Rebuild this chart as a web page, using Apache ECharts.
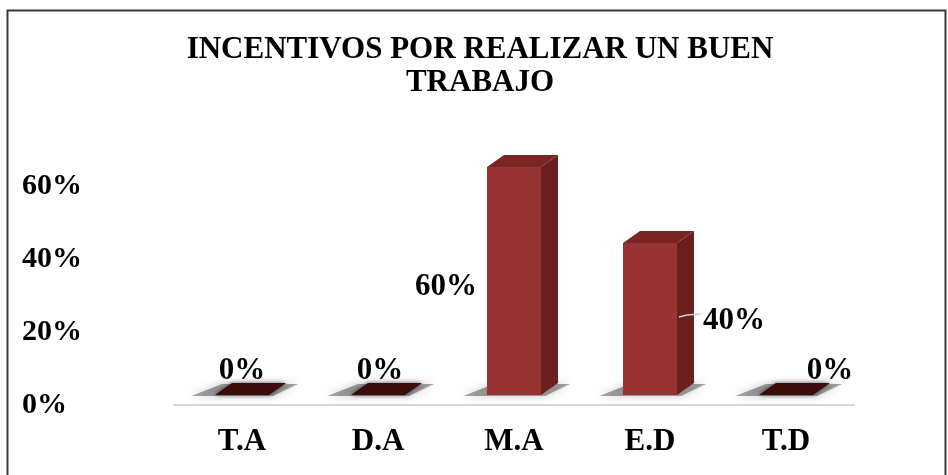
<!DOCTYPE html>
<html>
<head>
<meta charset="utf-8">
<script src="https://cdn.jsdelivr.net/npm/echarts@6/dist/echarts.min.js"></script>
<style>
  html, body { margin: 0; padding: 0; background: #fff; }
  #chart { width: 948px; height: 475px; }
</style>
</head>
<body>
<div id="chart"></div>
<script>
// datos del grafico
const categories = ['T.A', 'D.A', 'M.A', 'E.D', 'T.D']
const values = [0, 0, 60, 40, 0]
const yTicks = [0, 20, 40, 60]
const titleText = 'INCENTIVOS POR REALIZAR UN BUEN\nTRABAJO'

// desplazamiento de cada etiqueta respecto al centro frontal superior de la barra
const labelOffsets = [[0, -24], [2, -24], [-68, 120], [84, 78], [44, -24]]

const FONT = '"Liberation Serif", "Times New Roman", serif'
const DX = 17 // profundidad 3D
const DY = -12

const chart = echarts.init(document.getElementById('chart'))

function renderBar (params, api) {
  const idx = api.value(0)
  const val = api.value(1)
  const base = api.coord([idx, 0])
  const top = api.coord([idx, val])
  const w = 54
  const c = base[0]
  const x0 = c - w / 2
  const x1 = c + w / 2
  const yb = base[1]
  const yt = top[1]
  const children = []

  // sombra en el piso
  children.push({
    type: 'polygon',
    shape: { points: [[x0 - 24, yb + 1], [x1 + 4, yb + 1], [x1 + DX + 12, yb + DY + 1], [x0 + DX - 10, yb + DY + 1]] },
    style: { fill: 'rgba(0,0,0,0.35)', shadowBlur: 10, shadowColor: 'rgba(0,0,0,0.6)' },
    z2: 1
  })

  if (val > 0) {
    children.push({
      type: 'polygon',
      shape: { points: [[x1, yt], [x1 + DX, yt + DY], [x1 + DX, yb + DY], [x1, yb]] },
      style: { fill: '#6c1f1f' },
      z2: 3
    })
    children.push({
      type: 'rect',
      shape: { x: x0, y: yt, width: w, height: yb - yt },
      style: { fill: '#983333' },
      z2: 4
    })
    children.push({
      type: 'polygon',
      shape: { points: [[x0, yt], [x0 + DX, yt + DY], [x1 + DX, yt + DY], [x1, yt]] },
      style: { fill: '#7b2424' },
      z2: 5
    })
  } else {
    children.push({
      type: 'polygon',
      shape: { points: [[x0, yb], [x0 + DX, yb + DY], [x1 + DX, yb + DY], [x1, yb]] },
      style: { fill: '#3a0c0c', shadowBlur: 4, shadowColor: 'rgba(0,0,0,0.6)' },
      z2: 5
    })
  }

  const off = labelOffsets[params.dataIndex]
  const lx = c + off[0]
  const ly = yt + off[1]
  if (idx === 3) {
    // linea guia de la etiqueta
    children.push({
      type: 'polyline',
      shape: { points: [[x1 + 2, ly - 4], [x1 + 10, ly - 6], [lx - 33, ly - 7]] },
      style: { stroke: '#d0d0d0', lineWidth: 1.5, fill: null },
      z2: 6
    })
  }
  children.push({
    type: 'text',
    x: lx,
    y: ly,
    style: {
      text: val + '%',
      font: 'bold 31px ' + FONT,
      fill: '#000',
      align: 'center',
      verticalAlign: 'middle'
    },
    z2: 7
  })
  return { type: 'group', children: children }
}

chart.setOption({
  backgroundColor: '#fff',
  animation: false,
  title: {
    text: titleText,
    left: 475,
    top: 28,
    textAlign: 'center',
    textStyle: {
      fontFamily: FONT,
      fontWeight: 'bold',
      fontSize: 31,
      lineHeight: 33,
      color: '#000'
    }
  },
  graphic: [{
    type: 'rect',
    left: 5,
    top: 8,
    shape: { width: 938, height: 480 },
    style: { fill: null, stroke: '#3a3a3a', lineWidth: 2 },
    z: -1
  }],
  grid: [
    { left: 174, right: 94, top: 186, bottom: 70 },
    { left: 174, right: 94, top: 167, bottom: 80 }
  ],
  xAxis: [
    {
      type: 'category',
      gridIndex: 0,
      data: categories,
      axisLine: { lineStyle: { color: '#d6d6d6', width: 2 } },
      axisTick: { show: false },
      axisLabel: {
        margin: 21,
        fontFamily: FONT,
        fontWeight: 'bold',
        fontSize: 31,
        color: '#000'
      }
    },
    {
      type: 'category',
      gridIndex: 1,
      data: categories,
      show: false
    }
  ],
  yAxis: [
    {
      type: 'value',
      gridIndex: 0,
      min: yTicks[0],
      max: yTicks[yTicks.length - 1],
      interval: 20,
      axisLine: { show: false },
      axisTick: { show: false },
      splitLine: { show: false },
      axisLabel: {
        align: 'left',
        margin: 152,
        fontFamily: FONT,
        fontWeight: 'bold',
        fontSize: 30,
        color: '#000',
        formatter: '{value}%'
      }
    },
    {
      type: 'value',
      gridIndex: 1,
      min: 0,
      max: 60,
      show: false
    }
  ],
  series: [{
    type: 'custom',
    xAxisIndex: 1,
    yAxisIndex: 1,
    renderItem: renderBar,
    encode: { x: 0, y: 1 },
    data: values.map((v, i) => [i, v])
  }]
})
</script>
</body>
</html>
